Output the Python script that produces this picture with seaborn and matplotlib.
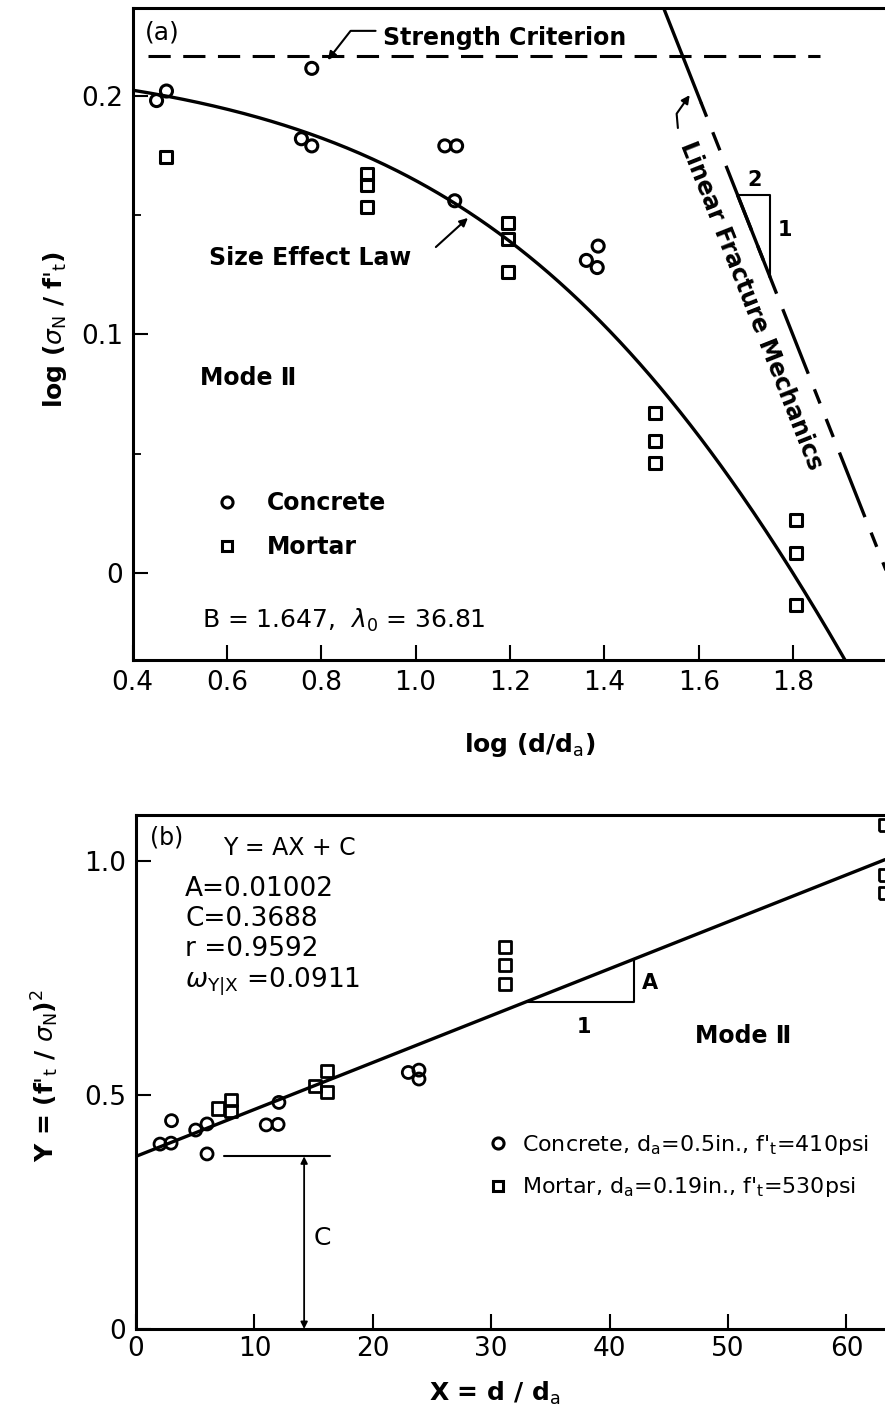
import numpy as np
import pandas as pd
import seaborn as sns
import matplotlib
matplotlib.use("Agg")
import matplotlib.pyplot as plt
from matplotlib.lines import Line2D

sns.set_style("ticks")
plt.rcParams['font.family'] = ['DejaVu Sans']
plt.rcParams['mathtext.fontset'] = 'dejavusans'
plt.rcParams['lines.scale_dashes'] = False
plt.rcParams['text.color'] = 'black'
plt.rcParams['axes.labelcolor'] = 'black'
plt.rcParams['xtick.color'] = 'black'
plt.rcParams['ytick.color'] = 'black'

# ---------------- data: panel (a) ----------------
a_conc_x = [0.451, 0.472, 0.780, 0.758, 0.780, 1.062, 1.087, 1.083, 1.362, 1.387, 1.385]
a_conc_y = [0.198, 0.202, 0.2115, 0.182, 0.179, 0.179, 0.179, 0.156, 0.131, 0.137, 0.128]
a_mort_x = [0.472, 0.897, 0.897, 0.897, 1.196, 1.196, 1.196, 1.507, 1.507, 1.507, 1.807, 1.807, 1.807]
a_mort_y = [0.1745, 0.1672, 0.1626, 0.1535, 0.1466, 0.140, 0.126, 0.0669, 0.0553, 0.046, 0.0222, 0.0085, -0.0134]
B = 1.647
lambda0 = 36.81

# ---------------- data: panel (b) ----------------
b_conc_x = [2.03, 2.96, 3.0, 5.04, 6.0, 6.0, 11.0, 12.0, 12.07, 23.0, 23.9, 23.9]
b_conc_y = [0.395, 0.397, 0.445, 0.425, 0.438, 0.374, 0.436, 0.437, 0.484, 0.548, 0.553, 0.534]
b_mort_x = [6.95, 8.0, 8.0, 15.1, 16.1, 16.1, 31.2, 31.2, 31.2, 63.3, 63.3, 63.3]
b_mort_y = [0.471, 0.489, 0.466, 0.520, 0.552, 0.507, 0.817, 0.778, 0.737, 1.077, 0.970, 0.931]
A_coef = 0.01002
C_coef = 0.3688

df_a = pd.DataFrame({
    "x": a_conc_x + a_mort_x,
    "y": a_conc_y + a_mort_y,
    "material": ["Concrete"] * len(a_conc_x) + ["Mortar"] * len(a_mort_x),
})
df_b = pd.DataFrame({
    "x": b_conc_x + b_mort_x,
    "y": b_conc_y + b_mort_y,
    "material": ["Concrete"] * len(b_conc_x) + ["Mortar"] * len(b_mort_x),
})

W, H = 885, 1415
fig = plt.figure(figsize=(W / 100, H / 100), dpi=100)

ax1 = fig.add_axes([132.5 / W, 1 - 660 / H, (W - 132.5) / W, (660 - 8) / H])
ax2 = fig.add_axes([136 / W, 1 - 1329 / H, (W - 136) / W, (1329 - 815) / H])

FS_TICK = 19
FS_TXT = 18
FS_LAB = 17
LW = 2.4

for ax in (ax1, ax2):
    for s in ("left", "bottom", "top"):
        ax.spines[s].set_linewidth(2.2)
        ax.spines[s].set_color("black")
    ax.spines["right"].set_visible(False)
    ax.tick_params(which="major", direction="in", length=11, width=1.5,
                   labelsize=FS_TICK, pad=7, colors="black")
    ax.tick_params(which="minor", direction="in", length=6, width=1.3)
    ax.tick_params(top=False, right=False)

markers = {"Concrete": "o", "Mortar": "s"}

# ---------------- panel (a) ----------------
x1lo, x1hi = 0.4, 1.995
y1lo, y1hi = -0.0365, 0.2368
ax1.set_xlim(x1lo, x1hi)
ax1.set_ylim(y1lo, y1hi)

sns.scatterplot(data=df_a, x="x", y="y", style="material", markers=markers,
                s=75, facecolor="none", edgecolor="black", linewidth=2.2,
                legend=False, ax=ax1, zorder=5)

xs = np.linspace(0.4, 2.0, 300)
size_law = np.log10(B) - 0.5 * np.log10(1 + 10 ** xs / lambda0)
sns.lineplot(x=xs, y=size_law, color="black", lw=LW, ax=ax1)

# strength criterion
ax1.plot([0.433, 1.858], [np.log10(B)] * 2, color="black", lw=2.2, dashes=(16, 9))
# LEFM line  y = log B + 0.5 log lambda0 - 0.5 x
c0 = np.log10(B) + 0.5 * np.log10(lambda0)
x_top = 2 * (c0 - y1hi)
x_sol = 1.605
ax1.plot([x_top, x_sol], [c0 - 0.5 * x_top, c0 - 0.5 * x_sol], color="black", lw=LW)
xd = np.array([x_sol, 2.05])
ax1.plot(xd, c0 - 0.5 * xd, color="black", lw=LW, dashes=(11, 12, 14, 12, 50, 12))
xh = np.array([1.6826, 1.7508])
ax1.plot(xh, c0 - 0.5 * xh, color="black", lw=LW)
ax1.plot([xh[0], xh[1], xh[1]], [c0 - 0.5 * xh[0]] * 2 + [c0 - 0.5 * xh[1]], color="black", lw=1.5)
ax1.text(1.719, 0.1647, "2", fontsize=15, fontweight="bold", ha="center", va="center")
ax1.text(1.783, 0.1438, "1", fontsize=15, fontweight="bold", ha="center", va="center")

ax1.set_xticks(np.arange(0.4, 1.81, 0.2))
ax1.set_xticklabels(["0.4", "0.6", "0.8", "1.0", "1.2", "1.4", "1.6", "1.8"])
ax1.set_yticks([0, 0.1, 0.2])
ax1.set_yticklabels(["0", "0.1", "0.2"])
ax1.set_yticks([0.05, 0.15], minor=True)

ax1.set_xlabel("log (d/d$_\\mathrm{a}$)", fontsize=FS_TXT, fontweight="bold")
ax1.set_ylabel("log ($\\sigma_\\mathrm{N}$ / f$'_\\mathrm{t}$)", fontsize=FS_TXT, fontweight="bold")
ax1.xaxis.set_label_coords(0.528, -0.13)
ax1.xaxis.label.set_va("center")
ax1.yaxis.set_label_coords(-0.103, 0.506)
ax1.yaxis.label.set_va("center")

ax1.text(0.427, 0.2267, "(a)", fontsize=FS_TXT, ha="left", va="center")
ax1.annotate("Strength Criterion", xy=(0.814, 0.215), xytext=(0.931, 0.2242),
             fontsize=FS_LAB, fontweight="bold", ha="left", va="center",
             arrowprops=dict(arrowstyle="-|>", color="black", lw=1.5,
                             connectionstyle="angle,angleA=180,angleB=52,rad=0",
                             relpos=(0, 0.8), shrinkA=3, shrinkB=0, mutation_scale=12))
ax1.text(0.776, 0.132, "Size Effect Law", fontsize=FS_LAB, fontweight="bold",
         ha="center", va="center")
ax1.annotate("", xy=(1.111, 0.1488), xytext=(1.043, 0.1366),
             arrowprops=dict(arrowstyle="-|>", color="black", lw=1.5,
                             shrinkA=0, shrinkB=0, mutation_scale=12))
ax1.text(1.712, 0.112, "Linear Fracture Mechanics", fontsize=FS_LAB, fontweight="bold",
         rotation=-68.4, rotation_mode="anchor", ha="center", va="center")
ax1.annotate("", xy=(1.581, 0.2003), xytext=(1.556, 0.1865),
             arrowprops=dict(arrowstyle="-|>", color="black", lw=1.5,
                             connectionstyle="angle,angleA=95,angleB=55,rad=0",
                             shrinkA=0, shrinkB=0, mutation_scale=12))
ax1.text(0.543, 0.0817, "Mode Ⅱ", fontsize=FS_LAB, fontweight="bold", ha="left", va="center")
ax1.text(0.547, -0.0197, "B = 1.647,  $\\lambda_0$ = 36.81", fontsize=FS_TXT, ha="left", va="center")

h_c = Line2D([], [], ls="none", marker="o", markersize=8, markerfacecolor="none",
             markeredgecolor="black", markeredgewidth=2.2)
h_m = Line2D([], [], ls="none", marker="s", markersize=7.5, markerfacecolor="none",
             markeredgecolor="black", markeredgewidth=2.2)
leg1 = ax1.legend([h_c, h_m], ["Concrete", "Mortar"], loc="center left",
                  bbox_to_anchor=(0.110, 0.207), frameon=False,
                  prop={"size": FS_LAB, "weight": "bold"},
                  handlelength=1.0, handletextpad=1.2, labelspacing=0.85,
                  borderpad=0, borderaxespad=0)

# ---------------- panel (b) ----------------
x2lo, x2hi = 0.0, 63.26
y2lo, y2hi = 0.0, 1.098
ax2.set_xlim(x2lo, x2hi)
ax2.set_ylim(y2lo, y2hi)

sns.scatterplot(data=df_b, x="x", y="y", style="material", markers=markers,
                s=75, facecolor="none", edgecolor="black", linewidth=2.0,
                legend=False, ax=ax2, zorder=5, clip_on=False)

xl = np.array([0.0, x2hi])
sns.lineplot(x=xl, y=A_coef * xl + C_coef, color="black", lw=LW, ax=ax2)

# slope triangle
tx0 = 33.0
tx1 = 42.1
ax2.plot([tx0, tx1, tx1], [A_coef * tx0 + C_coef, A_coef * tx0 + C_coef, A_coef * tx1 + C_coef],
         color="black", lw=1.5)
ax2.text(43.4, 0.739, "A", fontsize=15, fontweight="bold", ha="center", va="center")
ax2.text(37.8, 0.646, "1", fontsize=15, fontweight="bold", ha="center", va="center")
# intercept marker
ax2.plot([7.4, 16.4], [C_coef, C_coef], color="black", lw=1.5)
ax2.annotate("", xy=(14.2, 0.0), xytext=(14.2, C_coef),
             arrowprops=dict(arrowstyle="<|-|>", color="black", lw=1.3,
                             shrinkA=0, shrinkB=0, mutation_scale=10))
ax2.text(15.7, 0.194, "C", fontsize=FS_TXT, ha="center", va="center")

ax2.set_xticks(np.arange(0, 61, 10))
ax2.set_yticks([0, 0.5, 1.0])
ax2.set_yticklabels(["0", "0.5", "1.0"])
ax2.tick_params(axis="x", pad=5)

ax2.set_xlabel("X = d / d$_\\mathrm{a}$", fontsize=FS_TXT, fontweight="bold")
ax2.set_ylabel("Y = (f$'_\\mathrm{t}$ / $\\sigma_\\mathrm{N}$)$^2$", fontsize=FS_TXT, fontweight="bold")
ax2.xaxis.set_label_coords(0.479, -0.1245)
ax2.xaxis.label.set_va("center")
ax2.yaxis.set_label_coords(-0.1215, 0.494)
ax2.yaxis.label.set_va("center")

ax2.text(1.18, 1.051, "(b)", fontsize=17, ha="left", va="center")
ax2.text(7.35, 1.028, "Y = AX + C", fontsize=17, ha="left", va="center")
ax2.text(4.14, 0.940, "A=0.01002", fontsize=19, ha="left", va="center")
ax2.text(4.14, 0.876, "C=0.3688", fontsize=19, ha="left", va="center")
ax2.text(4.14, 0.812, "r =0.9592", fontsize=19, ha="left", va="center")
ax2.text(4.14, 0.744, "$\\omega_{\\mathrm{Y|X}}$ =0.0911", fontsize=19, ha="left", va="center")
ax2.text(47.2, 0.625, "Mode Ⅱ", fontsize=FS_LAB, fontweight="bold", ha="left", va="center")

leg2 = ax2.legend([h_c, h_m],
                  ["Concrete, d$_\\mathrm{a}$=0.5in., f$'_\\mathrm{t}$=410psi",
                   "Mortar, d$_\\mathrm{a}$=0.19in., f$'_\\mathrm{t}$=530psi"],
                  loc="center left", bbox_to_anchor=(0.469, 0.317), frameon=False,
                  fontsize=15.9, handlelength=1.0, handletextpad=0.55, labelspacing=0.85,
                  borderpad=0, borderaxespad=0)

fig.savefig("out.png", dpi=100)
